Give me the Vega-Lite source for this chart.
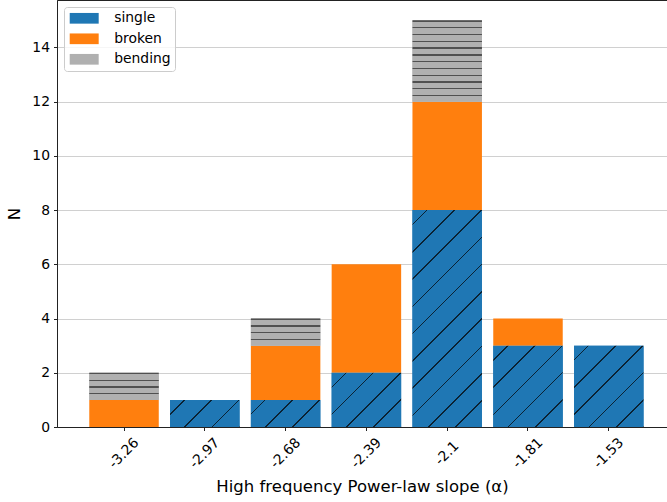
{
  "$schema": "https://vega.github.io/schema/vega-lite/v6.json",
  "width": 610,
  "height": 427,
  "autosize": {"type": "none"},
  "padding": {"left": 57, "top": 0, "right": 0, "bottom": 75},
  "background": "white",
  "config": {
    "font": "DejaVu Sans",
    "view": {"stroke": "#222222", "strokeWidth": 1},
    "axis": {
      "labelFont": "DejaVu Sans",
      "titleFont": "DejaVu Sans",
      "labelFontSize": 13.9,
      "titleFontSize": 16.5,
      "labelColor": "#000000",
      "titleColor": "#000000",
      "titleFontWeight": "normal",
      "domainColor": "#222222",
      "tickColor": "#222222",
      "tickSize": 3.5,
      "zindex": 1
    },
    "legend": {
      "labelFont": "DejaVu Sans",
      "labelFontSize": 13.9,
      "labelColor": "#000000"
    }
  },
  "data": {
    "values": [
      {"bin": "-3.26", "type": "broken", "N": 1},
      {"bin": "-3.26", "type": "bending", "N": 1},
      {"bin": "-2.97", "type": "single", "N": 1},
      {"bin": "-2.68", "type": "single", "N": 1},
      {"bin": "-2.68", "type": "broken", "N": 2},
      {"bin": "-2.68", "type": "bending", "N": 1},
      {"bin": "-2.39", "type": "single", "N": 2},
      {"bin": "-2.39", "type": "broken", "N": 4},
      {"bin": "-2.1", "type": "single", "N": 8},
      {"bin": "-2.1", "type": "broken", "N": 4},
      {"bin": "-2.1", "type": "bending", "N": 3},
      {"bin": "-1.81", "type": "single", "N": 3},
      {"bin": "-1.81", "type": "broken", "N": 1},
      {"bin": "-1.53", "type": "single", "N": 3}
    ]
  },
  "transform": [
    {"stack": "N", "groupby": ["bin"], "sort": [{"field": "type", "order": "descending"}], "as": ["y0", "y1"]}
  ],
  "encoding": {
    "x": {
      "field": "bin",
      "type": "nominal",
      "sort": ["-3.26", "-2.97", "-2.68", "-2.39", "-2.1", "-1.81", "-1.53"],
      "scale": {"paddingInner": 0.14, "paddingOuter": 0.345, "align": 0.579},
      "axis": {
        "title": "High frequency Power-law slope (α)",
        "labelAngle": -45,
        "labelAlign": "center",
        "labelBaseline": "middle",
        "labelPadding": 22.5,
        "labelOverlap": false,
        "grid": false,
        "titleY": 64,
        "titleBaseline": "alphabetic"
      }
    },
    "y": {
      "field": "y0",
      "type": "quantitative",
      "scale": {"domain": [0, 15.75], "nice": false},
      "axis": {
        "title": "N",
        "values": [0, 2, 4, 6, 8, 10, 12, 14],
        "grid": true,
        "gridColor": "#b0b0b0",
        "gridOpacity": 0.6,
        "gridWidth": 1,
        "labelPadding": 4,
        "titleX": -43,
        "titleAlign": "center",
        "titleBaseline": "middle"
      }
    },
    "y2": {"field": "y1"}
  },
  "layer": [
    {
      "mark": {"type": "bar", "strokeWidth": 0},
      "encoding": {
        "color": {
          "field": "type",
          "type": "nominal",
          "scale": {"domain": ["single", "broken", "bending"], "range": ["#1f77b4", "#ff7f0e", "#b0b0b0"]},
          "legend": {
            "title": null,
            "orient": "top-left",
            "offset": 6.5,
            "padding": 4.3,
            "symbolType": "M-2.07,-0.764H2.07V0.764H-2.07Z",
            "symbolSize": 196,
            "symbolStrokeWidth": 0,
            "symbolOffset": 8.9,
            "labelOffset": 23,
            "rowPadding": 6.5,
            "fillColor": "rgba(255,255,255,0.8)",
            "strokeColor": "#cccccc",
            "cornerRadius": 3
          }
        }
      }
    },
    {
      "transform": [{"filter": "datum.type != 'broken'"}],
      "mark": {"type": "bar", "strokeWidth": 0},
      "encoding": {
        "fill": {
          "condition": [
            {"test": "datum.type == 'bending' && datum.N == 3", "value": {"gradient": "linear", "x1": 0, "y1": 0, "x2": 0, "y2": 1, "stops": [
              {"offset": 0, "color": "#505050"}, {"offset": 0.0167, "color": "#505050"}, {"offset": 0.0167, "color": "#b0b0b0"},
              {"offset": 0.0833, "color": "#b0b0b0"}, {"offset": 0.0833, "color": "#505050"}, {"offset": 0.1, "color": "#505050"}, {"offset": 0.1, "color": "#b0b0b0"},
              {"offset": 0.1667, "color": "#b0b0b0"}, {"offset": 0.1667, "color": "#505050"}, {"offset": 0.1833, "color": "#505050"}, {"offset": 0.1833, "color": "#b0b0b0"},
              {"offset": 0.25, "color": "#b0b0b0"}, {"offset": 0.25, "color": "#505050"}, {"offset": 0.2667, "color": "#505050"}, {"offset": 0.2667, "color": "#b0b0b0"},
              {"offset": 0.3333, "color": "#b0b0b0"}, {"offset": 0.3333, "color": "#505050"}, {"offset": 0.35, "color": "#505050"}, {"offset": 0.35, "color": "#b0b0b0"},
              {"offset": 0.4167, "color": "#b0b0b0"}, {"offset": 0.4167, "color": "#505050"}, {"offset": 0.4333, "color": "#505050"}, {"offset": 0.4333, "color": "#b0b0b0"},
              {"offset": 0.5, "color": "#b0b0b0"}, {"offset": 0.5, "color": "#505050"}, {"offset": 0.5167, "color": "#505050"}, {"offset": 0.5167, "color": "#b0b0b0"},
              {"offset": 0.5833, "color": "#b0b0b0"}, {"offset": 0.5833, "color": "#505050"}, {"offset": 0.6, "color": "#505050"}, {"offset": 0.6, "color": "#b0b0b0"},
              {"offset": 0.6667, "color": "#b0b0b0"}, {"offset": 0.6667, "color": "#505050"}, {"offset": 0.6833, "color": "#505050"}, {"offset": 0.6833, "color": "#b0b0b0"},
              {"offset": 0.75, "color": "#b0b0b0"}, {"offset": 0.75, "color": "#505050"}, {"offset": 0.7667, "color": "#505050"}, {"offset": 0.7667, "color": "#b0b0b0"},
              {"offset": 0.8333, "color": "#b0b0b0"}, {"offset": 0.8333, "color": "#505050"}, {"offset": 0.85, "color": "#505050"}, {"offset": 0.85, "color": "#b0b0b0"},
              {"offset": 0.9167, "color": "#b0b0b0"}, {"offset": 0.9167, "color": "#505050"}, {"offset": 0.9333, "color": "#505050"}, {"offset": 0.9333, "color": "#b0b0b0"},
              {"offset": 1, "color": "#b0b0b0"}
            ]}},
            {"test": "datum.type == 'bending'", "value": {"gradient": "linear", "x1": 0, "y1": 0, "x2": 0, "y2": 1, "stops": [
              {"offset": 0, "color": "#505050"}, {"offset": 0.05, "color": "#505050"}, {"offset": 0.05, "color": "#b0b0b0"},
              {"offset": 0.25, "color": "#b0b0b0"}, {"offset": 0.25, "color": "#505050"}, {"offset": 0.3, "color": "#505050"}, {"offset": 0.3, "color": "#b0b0b0"},
              {"offset": 0.5, "color": "#b0b0b0"}, {"offset": 0.5, "color": "#505050"}, {"offset": 0.55, "color": "#505050"}, {"offset": 0.55, "color": "#b0b0b0"},
              {"offset": 0.75, "color": "#b0b0b0"}, {"offset": 0.75, "color": "#505050"}, {"offset": 0.8, "color": "#505050"}, {"offset": 0.8, "color": "#b0b0b0"},
              {"offset": 1, "color": "#b0b0b0"}
            ]}},
            {"test": "datum.type == 'single' && datum.N == 1", "value": {"gradient": "linear", "x1": 0, "y1": 0, "x2": 1.2066, "y2": 0.4708, "stops": [
              {"offset": 0, "color": "#1f77b4"},
              {"offset": 0.1413, "color": "#1f77b4"}, {"offset": 0.1413, "color": "#0b2233"}, {"offset": 0.1568, "color": "#0b2233"}, {"offset": 0.1568, "color": "#1f77b4"},
              {"offset": 0.4238, "color": "#1f77b4"}, {"offset": 0.4238, "color": "#0b2233"}, {"offset": 0.4393, "color": "#0b2233"}, {"offset": 0.4393, "color": "#1f77b4"},
              {"offset": 0.7064, "color": "#1f77b4"}, {"offset": 0.7064, "color": "#0b2233"}, {"offset": 0.7219, "color": "#0b2233"}, {"offset": 0.7219, "color": "#1f77b4"},
              {"offset": 0.9889, "color": "#1f77b4"}, {"offset": 0.9889, "color": "#0b2233"}, {"offset": 1, "color": "#0b2233"}
            ]}},
            {"test": "datum.type == 'single' && datum.N == 2", "value": {"gradient": "linear", "x1": 0, "y1": 0, "x2": 1.1065, "y2": 0.8636, "stops": [
              {"offset": 0, "color": "#1f77b4"},
              {"offset": 0.1103, "color": "#1f77b4"}, {"offset": 0.1103, "color": "#0b2233"}, {"offset": 0.1224, "color": "#0b2233"}, {"offset": 0.1224, "color": "#1f77b4"},
              {"offset": 0.3309, "color": "#1f77b4"}, {"offset": 0.3309, "color": "#0b2233"}, {"offset": 0.343, "color": "#0b2233"}, {"offset": 0.343, "color": "#1f77b4"},
              {"offset": 0.5516, "color": "#1f77b4"}, {"offset": 0.5516, "color": "#0b2233"}, {"offset": 0.5637, "color": "#0b2233"}, {"offset": 0.5637, "color": "#1f77b4"},
              {"offset": 0.7722, "color": "#1f77b4"}, {"offset": 0.7722, "color": "#0b2233"}, {"offset": 0.7843, "color": "#0b2233"}, {"offset": 0.7843, "color": "#1f77b4"},
              {"offset": 0.9928, "color": "#1f77b4"}, {"offset": 0.9928, "color": "#0b2233"}, {"offset": 1, "color": "#0b2233"}
            ]}},
            {"test": "datum.type == 'single' && datum.N == 3", "value": {"gradient": "linear", "x1": 0, "y1": 0, "x2": 0.9157, "y2": 1.072, "stops": [
              {"offset": 0, "color": "#1f77b4"},
              {"offset": 0.0905, "color": "#1f77b4"}, {"offset": 0.0905, "color": "#0b2233"}, {"offset": 0.1004, "color": "#0b2233"}, {"offset": 0.1004, "color": "#1f77b4"},
              {"offset": 0.2714, "color": "#1f77b4"}, {"offset": 0.2714, "color": "#0b2233"}, {"offset": 0.2813, "color": "#0b2233"}, {"offset": 0.2813, "color": "#1f77b4"},
              {"offset": 0.4524, "color": "#1f77b4"}, {"offset": 0.4524, "color": "#0b2233"}, {"offset": 0.4623, "color": "#0b2233"}, {"offset": 0.4623, "color": "#1f77b4"},
              {"offset": 0.6334, "color": "#1f77b4"}, {"offset": 0.6334, "color": "#0b2233"}, {"offset": 0.6433, "color": "#0b2233"}, {"offset": 0.6433, "color": "#1f77b4"},
              {"offset": 0.8143, "color": "#1f77b4"}, {"offset": 0.8143, "color": "#0b2233"}, {"offset": 0.8242, "color": "#0b2233"}, {"offset": 0.8242, "color": "#1f77b4"},
              {"offset": 0.9953, "color": "#1f77b4"}, {"offset": 0.9953, "color": "#0b2233"}, {"offset": 1, "color": "#0b2233"}
            ]}},
            {"test": "datum.type == 'single' && datum.N == 8", "value": {"gradient": "linear", "x1": 0, "y1": 0, "x2": 0.3836, "y2": 1.1975, "stops": [
              {"offset": 0, "color": "#1f77b4"},
              {"offset": 0.0477, "color": "#1f77b4"}, {"offset": 0.0477, "color": "#0b2233"}, {"offset": 0.0529, "color": "#0b2233"}, {"offset": 0.0529, "color": "#1f77b4"},
              {"offset": 0.143, "color": "#1f77b4"}, {"offset": 0.143, "color": "#0b2233"}, {"offset": 0.1482, "color": "#0b2233"}, {"offset": 0.1482, "color": "#1f77b4"},
              {"offset": 0.2383, "color": "#1f77b4"}, {"offset": 0.2383, "color": "#0b2233"}, {"offset": 0.2435, "color": "#0b2233"}, {"offset": 0.2435, "color": "#1f77b4"},
              {"offset": 0.3336, "color": "#1f77b4"}, {"offset": 0.3336, "color": "#0b2233"}, {"offset": 0.3388, "color": "#0b2233"}, {"offset": 0.3388, "color": "#1f77b4"},
              {"offset": 0.4289, "color": "#1f77b4"}, {"offset": 0.4289, "color": "#0b2233"}, {"offset": 0.4341, "color": "#0b2233"}, {"offset": 0.4341, "color": "#1f77b4"},
              {"offset": 0.5242, "color": "#1f77b4"}, {"offset": 0.5242, "color": "#0b2233"}, {"offset": 0.5294, "color": "#0b2233"}, {"offset": 0.5294, "color": "#1f77b4"},
              {"offset": 0.6195, "color": "#1f77b4"}, {"offset": 0.6195, "color": "#0b2233"}, {"offset": 0.6247, "color": "#0b2233"}, {"offset": 0.6247, "color": "#1f77b4"},
              {"offset": 0.7148, "color": "#1f77b4"}, {"offset": 0.7148, "color": "#0b2233"}, {"offset": 0.72, "color": "#0b2233"}, {"offset": 0.72, "color": "#1f77b4"},
              {"offset": 0.8101, "color": "#1f77b4"}, {"offset": 0.8101, "color": "#0b2233"}, {"offset": 0.8153, "color": "#0b2233"}, {"offset": 0.8153, "color": "#1f77b4"},
              {"offset": 0.9054, "color": "#1f77b4"}, {"offset": 0.9054, "color": "#0b2233"}, {"offset": 0.9106, "color": "#0b2233"}, {"offset": 0.9106, "color": "#1f77b4"},
              {"offset": 1, "color": "#1f77b4"}
            ]}}
          ],
          "value": "transparent"
        }
      }
    }
  ]
}
